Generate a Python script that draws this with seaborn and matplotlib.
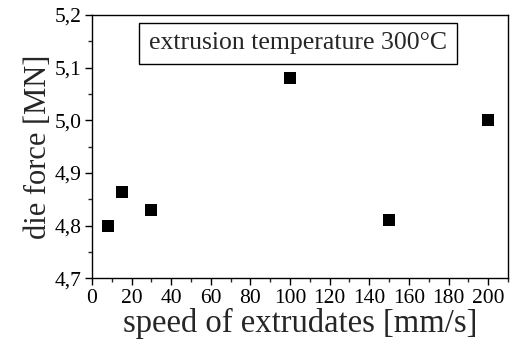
import matplotlib
matplotlib.use("Agg")
import matplotlib.pyplot as plt
import seaborn as sns
import pandas as pd
from matplotlib.ticker import MultipleLocator, FuncFormatter

speed = [8, 15, 30, 100, 150, 200]
force = [4.80, 4.863, 4.83, 5.08, 4.81, 5.00]
x_ticks = [0, 20, 40, 60, 80, 100, 120, 140, 160, 180, 200]
y_ticks = [4.7, 4.8, 4.9, 5.0, 5.1, 5.2]
annotation = "extrusion temperature 300°C"

sns.set_style("ticks")
plt.rcParams['font.family'] = ['Liberation Serif', 'DejaVu Serif']

df = pd.DataFrame({"speed": speed, "force": force})

fig = plt.figure(figsize=(5.11, 3.41), dpi=100)
ax = fig.add_axes([0.18, 0.184, 0.814, 0.772])
sns.scatterplot(data=df, x="speed", y="force", marker="s", s=75, color="black",
                edgecolor="black", linewidth=0, ax=ax, legend=False)

ax.set_xlim(0, 210)
ax.set_ylim(4.7, 5.2)
ax.set_xticks(x_ticks)
ax.set_yticks(y_ticks)
ax.xaxis.set_minor_locator(MultipleLocator(10))
ax.yaxis.set_minor_locator(MultipleLocator(0.05))
ax.yaxis.set_major_formatter(FuncFormatter(lambda v, p: f"{v:.1f}".replace(".", ",")))
ax.tick_params(axis="both", which="major", direction="out", length=5, width=1,
               labelsize=15.5, pad=2.5, colors="black")
ax.tick_params(axis="both", which="minor", direction="out", length=3, width=1)
for s in ax.spines.values():
    s.set_visible(True)
    s.set_color("black")
    s.set_linewidth(1)

ax.set_xlabel("speed of extrudates [mm/s]", fontsize=23.5, labelpad=0)
ax.set_ylabel("die force [MN]", fontsize=22, labelpad=1)

ax.text(0.495, 0.892, annotation, transform=ax.transAxes, ha="center", va="center",
        fontsize=18.5, bbox=dict(boxstyle="square,pad=0.38", facecolor="white",
                                edgecolor="black", linewidth=1))

fig.savefig("out.png", dpi=100)
